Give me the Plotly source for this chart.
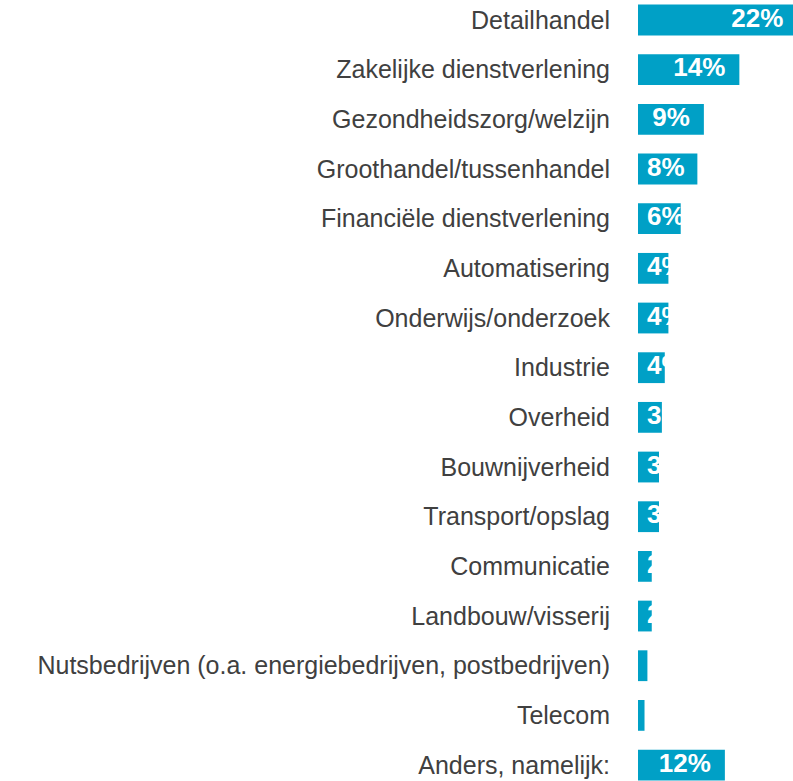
import plotly.graph_objects as go

categories = [
    "Detailhandel",
    "Zakelijke dienstverlening",
    "Gezondheidszorg/welzijn",
    "Groothandel/tussenhandel",
    "Financiële dienstverlening",
    "Automatisering",
    "Onderwijs/onderzoek",
    "Industrie",
    "Overheid",
    "Bouwnijverheid",
    "Transport/opslag",
    "Communicatie",
    "Landbouw/visserij",
    "Nutsbedrijven (o.a. energiebedrijven, postbedrijven)",
    "Telecom",
    "Anders, namelijk:",
]
values = [22.0, 14.0, 9.1, 8.2, 5.9, 4.2, 4.2, 3.7, 3.3, 2.9, 2.9, 1.9, 1.9, 1.3, 0.9, 12.0]
labels = [f"{round(v)}%" for v in values]

# layout constants
W, H = 793, 781
LEFT = 638
PLOT_W = W - LEFT
PX_PER = 7.24                 # pixels per percent
XMAX = PLOT_W / PX_PER
ROW0 = 20.0                   # centre of first row (px)
STEP = 49.67                  # row spacing (px)
BAR_COLOR = "#00A0C6"
FS_LAB = 25
FS_VAL = 26
PAD_END = 14
PAD_START = 9


def text_w(s, fs):
    return sum((0.889 if c == "%" else 0.556) for c in s) * fs


tx, tpos = [], []
for v, s in zip(values, labels):
    end_px = v * PX_PER
    w = text_w(s, FS_VAL)
    if end_px - PAD_END - w >= PAD_START:
        tx.append(v - PAD_END / PX_PER)
        tpos.append("middle left")
    else:
        tx.append(PAD_START / PX_PER)
        tpos.append("middle right")

fig = go.Figure()
fig.add_trace(go.Bar(
    x=values, y=categories, orientation="h",
    marker=dict(color=BAR_COLOR, line=dict(width=0)),
    hoverinfo="skip",
))
fig.add_trace(go.Scatter(
    x=tx, y=categories, mode="text", text=labels, textposition=tpos,
    textfont=dict(family="Liberation Sans", size=FS_VAL, color="white", weight="bold"),
    cliponaxis=False, hoverinfo="skip", showlegend=False,
))

ytop = -ROW0 / STEP
ybot = (H - ROW0) / STEP
fig.update_layout(
    width=W, height=H,
    margin=dict(l=LEFT, r=0, t=0, b=0, autoexpand=False),
    paper_bgcolor="white", plot_bgcolor="white",
    showlegend=False, bargap=0.38,
    xaxis=dict(range=[0, XMAX], visible=False, fixedrange=True),
    yaxis=dict(
        type="category", range=[ybot, ytop], showgrid=False, zeroline=False,
        showline=False, ticks="", ticklabelstandoff=27,
        tickfont=dict(family="Liberation Sans", size=FS_LAB, color="#404040"),
        categoryorder="array", categoryarray=categories,
    ),
)
fig.write_html(
    "out.html",
    config={"displayModeBar": False},
    post_script="document.body.style.margin='0';document.body.style.padding='0';",
)
